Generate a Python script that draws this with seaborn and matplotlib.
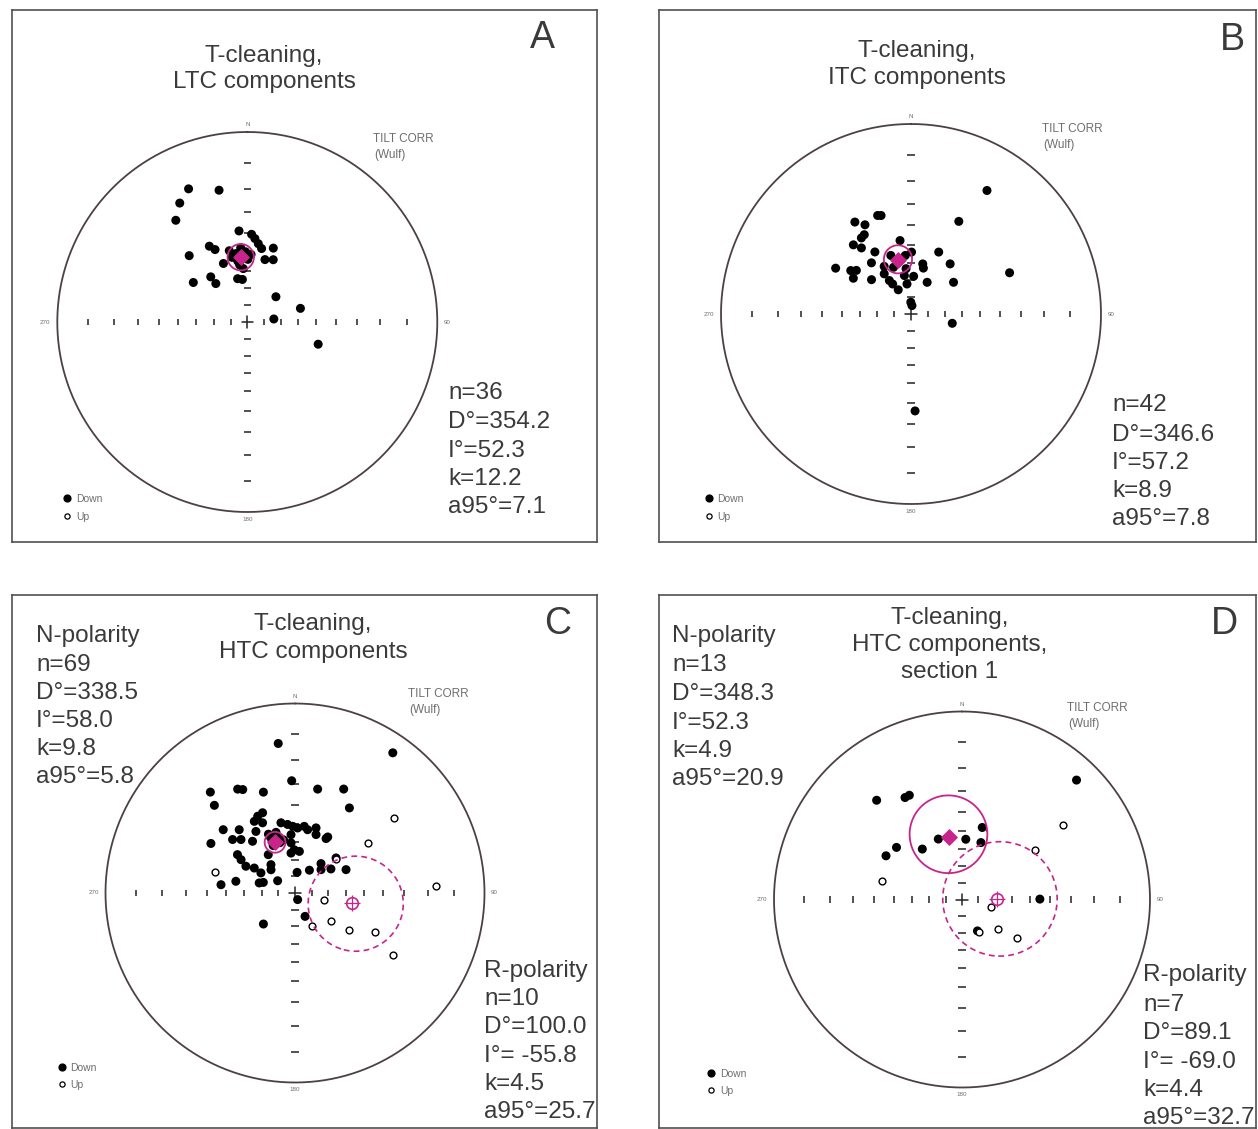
import numpy as np
import pandas as pd
import seaborn as sns
import matplotlib.pyplot as plt

sns.set_theme(style='white')
plt.rcParams['font.family'] = ['Liberation Sans', 'DejaVu Sans']

# ---- data: declination / inclination of each specimen (deg) ----
A_DEC = [336.2, 347.9, 330.4, 324.9, 318.8, 306.2, 321.0, 320.7, 333.4, 336.0,
         337.8, 354.8, 2.8, 5.2, 8.0, 11.0, 19.4, 15.8, 22.6, 347.4,
         353.4, 355.7, 48.6, 75.6, 83.5, 107.4, 350.5, 358.5, 0.5, 351.1,
         346.8, 356.7, 3.2, 352.4, 345.8, 354.9]
A_INC = [15.1, 19.3, 18.5, 23.6, 40.2, 51.2, 56.0, 60.7, 41.9, 44.7,
         53.2, 38.6, 40.4, 42.4, 44.8, 47.0, 45.2, 52.3, 50.9, 63.7,
         64.6, 58.5, 67.3, 57.8, 74.0, 47.3, 49.9, 49.4, 53.5, 54.1,
         51.5, 51.3, 50.8, 56.3, 47.7, 47.2]

B_DEC = [31.6, 27.3, 67.3, 102.7, 177.6, 6.5, 343.1, 341.3, 328.6, 332.7,
         329.5, 326.9, 320.2, 323.1, 329.8, 351.5, 24.1, 38.0, 53.3, 27.0,
         13.2, 15.1, 301.3, 305.8, 308.6, 301.8, 322.3, 311.0, 326.3, 327.1,
         328.5, 332.2, 352.4, 4.0, 0.5, 354.4, 341.0, 339.5, 353.8, 359.0,
         330.6, 350.2]
B_INC = [15.3, 32.5, 31.3, 64.9, 35.9, 84.9, 33.1, 32.6, 30.9, 34.3,
         38.3, 38.9, 39.3, 43.0, 48.6, 47.3, 50.7, 53.0, 58.8, 68.8,
         59.7, 61.9, 40.2, 47.3, 49.6, 50.7, 52.4, 59.2, 61.5, 66.3,
         69.0, 73.6, 71.9, 67.5, 53.9, 55.6, 53.9, 60.6, 63.0, 82.9,
         57.9, 66.8]

C_N_DEC = [353.6, 34.9, 358.3, 320.0, 317.4, 331.1, 333.2, 342.6, 12.3, 25.1,
           32.6, 300.5, 281.2, 276.4, 225.5, 158.2, 156.7, 65.4, 56.2, 41.5,
           32.3, 5.8, 305.2, 288.5, 30.3,
           334.1, 338.0, 330.4, 335.2, 327.6, 311.4, 318.6, 310.6, 314.7, 320.6,
           348.7, 353.8, 358.0, 2.3, 7.9, 11.3, 17.9, 19.8, 29.7, 355.5,
           359.0, 6.0, 354.3, 303.7, 301.7, 298.6, 301.5, 319.7, 314.1, 300.5,
           48.1, 49.5, 285.7, 325.1, 356.1,
           342.8, 336.0, 341.6, 336.2, 343.2, 335.3, 347.9, 335.7, 342.6]
C_N_INC = [13.1, 5.9, 28.7, 20.4, 25.7, 25.9, 27.1, 31.7, 31.4, 27.6,
           33.9, 35.5, 54.7, 47.1, 63.7, 85.7, 74.7, 57.0, 64.3, 66.6,
           73.8, 77.5, 77.2, 70.0, 52.2,
           41.5, 40.9, 43.0, 45.6, 47.9, 36.4, 42.0, 43.1, 46.3, 51.1,
           48.6, 50.0, 51.2, 52.1, 50.9, 52.4, 50.3, 53.7, 53.4, 60.3,
           64.3, 65.1, 66.1, 49.9, 53.0, 57.1, 61.7, 67.8, 70.0, 66.4,
           69.1, 58.2, 67.8, 62.3, 55.7,
           56.2, 57.0, 54.9, 54.3, 59.0, 59.2, 58.0, 52.4, 52.9]
C_R_DEC = [53.0, 55.5, 50.2, 87.3, 103.0, 128.7, 153.0, 124.1, 116.0, 122.3, 284.5]
C_R_INC = [-23.4, -40.0, -58.4, -16.6, -72.4, -63.0, -68.1, -51.8, -39.6, -27.2, -42.8]

D_N_DEC = [43.8, 319.3, 330.8, 333.2, 308.5, 299.9, 321.8, 338.6, 3.6, 15.7, 18.4, 89.7, 153.8]
D_N_INC = [7.3, 20.3, 26.3, 26.3, 42.0, 40.0, 52.3, 51.9, 54.4, 46.6, 54.6, 45.0, 68.9]
D_R_DEC = [53.6, 56.0, 283.1, 104.2, 152.4, 128.6, 124.5]
D_R_INC = [-22.8, -39.8, -42.9, -71.9, -68.1, -62.2, -50.7]

# mean directions: dec, inc, k, a95, n
A_MEAN = (354.2, 52.3, 12.2, 7.1, 36)
B_MEAN = (346.6, 57.2, 8.9, 7.8, 42)
C_MEAN_N = (338.5, 58.0, 9.8, 5.8, 69)
C_MEAN_R = (100.0, -55.8, 4.5, 25.7, 10)
D_MEAN_N = (348.3, 52.3, 4.9, 20.9, 13)
D_MEAN_R = (89.1, -69.0, 4.4, 32.7, 7)

TICK_INC = [10, 20, 30, 40, 50, 60, 70, 80]

W, H = 1258, 1129
TXT = '#3a3a3a'
GREY = '#6e6e6e'
MAG = '#c8248c'
RING = '#4e4040'

fig = plt.figure(figsize=(W / 100, H / 100), dpi=100)


def wulff(dec, inc):
    d = np.radians(np.asarray(dec, float))
    r = np.tan(np.radians(90 - np.abs(np.asarray(inc, float))) / 2)
    return r * np.sin(d), r * np.cos(d)


def cone(dec, inc, a95, n=241):
    d, i, a = np.radians([dec, inc, a95])
    m = np.array([np.cos(i) * np.sin(d), np.cos(i) * np.cos(d), np.sin(i)])
    u = np.cross(m, [0, 0, 1.0])
    u /= np.linalg.norm(u)
    v = np.cross(m, u)
    t = np.linspace(0, 2 * np.pi, n)
    p = np.cos(a) * m[:, None] + np.sin(a) * (np.outer(u, np.cos(t)) + np.outer(v, np.sin(t)))
    pinc = np.degrees(np.arcsin(np.clip(p[2], -1, 1)))
    pdec = np.degrees(np.arctan2(p[0], p[1]))
    return wulff(pdec, pinc)


def ftext(x, y, s, **kw):
    kw.setdefault('color', TXT)
    fig.text(x / W, 1 - y / H, s, **kw)


def panel(box, centre, radius):
    x0, y0, x1, y1 = box
    cx, cy = centre
    ax = fig.add_axes([x0 / W, 1 - y1 / H, (x1 - x0) / W, (y1 - y0) / H])
    ax.set_xlim((x0 - cx) / radius, (x1 - cx) / radius)
    ax.set_ylim((cy - y1) / radius, (cy - y0) / radius)
    ax.set_aspect('auto')
    ax.set_xticks([])
    ax.set_yticks([])
    for sp in ax.spines.values():
        sp.set_color('#505050')
        sp.set_linewidth(1.2)
    t = np.linspace(0, 2 * np.pi, 500)
    ax.plot(np.sin(t), np.cos(t), color=RING, lw=1.3)
    r = np.tan(np.radians(90 - np.array(TICK_INC, float)) / 2)
    r = np.concatenate([r, -r])
    ax.vlines(r, -0.018, 0.018, color='#222222', lw=1.1)
    ax.hlines(r, -0.02, 0.02, color='#222222', lw=1.1)
    ax.plot([-0.03, 0.03], [0, 0], color='#222222', lw=1.1)
    ax.plot([0, 0], [-0.03, 0.03], color='#222222', lw=1.1)
    small = dict(fontsize=4.5, color=GREY)
    ax.text(0, 1.025, 'N', ha='center', va='bottom', **small)
    ax.text(0, -1.025, '180', ha='center', va='top', **small)
    ax.text(-1.035, 0, '270', ha='right', va='center', **small)
    ax.text(1.035, 0, '90', ha='left', va='center', **small)

    def to(px, py):
        return (px - cx) / radius, (cy - py) / radius
    return ax, to


def points(ax, dec, inc):
    x, y = wulff(dec, inc)
    df = pd.DataFrame({'x': x, 'y': y, 'down': np.asarray(inc) >= 0})
    sns.scatterplot(data=df[df['down']], x='x', y='y', ax=ax, color='black',
                    s=42, edgecolor='none', legend=False, zorder=3)
    sns.scatterplot(data=df[~df['down']], x='x', y='y', ax=ax, color='white',
                    edgecolor='black', linewidth=1.0, s=24, legend=False, zorder=3)
    ax.set_xlabel('')
    ax.set_ylabel('')


def mean(ax, m):
    dec, inc, k, a95, n = m
    cx, cy = cone(dec, inc, a95)
    mx, my = wulff([dec], [inc])
    if inc >= 0:
        ax.plot(cx, cy, color=MAG, lw=1.3, zorder=4)
        ax.scatter(mx, my, marker='D', s=60, color=MAG, zorder=5)
    else:
        ax.plot(cx, cy, color=MAG, lw=1.2, ls=(0, (3.5, 2.5)), zorder=4)
        ax.scatter(mx, my, marker='o', s=70, facecolor='white', edgecolor=MAG,
                   linewidth=1.2, zorder=5)
        ax.scatter(mx, my, marker='+', s=130, color=MAG, linewidth=0.9, zorder=5)


def stats(x, ys, m, head=None):
    dec, inc, k, a95, n = m
    sep = '= ' if inc < 0 else '='
    lines = [f'n={n}', f'D\u00b0={dec:.1f}', f'I\u00b0{sep}{inc:.1f}',
             f'k={k:.1f}', f'a95\u00b0={a95:.1f}']
    if head:
        lines = [head] + lines
    for yy, s in zip(ys, lines):
        ftext(x, yy, s, fontsize=17.5, va='baseline', ha='left')


def legend(ax, to, x, y1, y2, tx):
    ax.scatter(*to(x, y1), s=24, color='black', zorder=3)
    ax.scatter(*to(x, y2), s=14, facecolor='white', edgecolor='black', linewidth=0.9, zorder=3)
    ftext(tx, y1 + 4, 'Down', fontsize=7.5, color=GREY, va='baseline')
    ftext(tx, y2 + 4, 'Up', fontsize=7.5, color=GREY, va='baseline')


def tilt(x, y):
    ftext(x, y, 'TILT CORR', fontsize=8.5, color=GREY, va='baseline')
    ftext(x + 1, y + 16, '(Wulf)', fontsize=8.5, color=GREY, va='baseline')


def title(x, ys, lines, letter, lx, ly):
    for yy, s in zip(ys, lines):
        ftext(x, yy, s, fontsize=17.5, ha='center', va='baseline')
    ftext(lx, ly, letter, fontsize=27, ha='center', va='baseline')


# ---- A ----
ax, to = panel((12, 10, 597, 542), (247.3, 322), 190)
points(ax, A_DEC, A_INC)
mean(ax, A_MEAN)
legend(ax, to, 67, 498, 516, 76)
title(264, [62, 88], ['T-cleaning,', 'LTC components'], 'A', 542, 48)
tilt(373, 142)
stats(448, [399, 428, 457, 485, 513], A_MEAN)

# ---- B ----
ax, to = panel((659, 10, 1256, 542), (911, 314), 190)
points(ax, B_DEC, B_INC)
mean(ax, B_MEAN)
legend(ax, to, 709, 498, 516, 717)
title(917, [57, 84], ['T-cleaning,', 'ITC components'], 'B', 1232, 50)
tilt(1042, 132)
stats(1112, [411, 441, 469, 497, 525], B_MEAN)

# ---- C ----
ax, to = panel((12, 595, 597, 1128), (295, 893), 189.5)
points(ax, C_N_DEC + C_R_DEC, C_N_INC + C_R_INC)
mean(ax, C_MEAN_N)
mean(ax, C_MEAN_R)
legend(ax, to, 62, 1067, 1084, 70)
title(313, [630, 658], ['T-cleaning,', 'HTC components'], 'C', 558, 634)
tilt(408, 697)
stats(36, [642, 671, 699, 727, 755, 783], C_MEAN_N, 'N-polarity')
stats(484, [977, 1005, 1033, 1062, 1090, 1118], C_MEAN_R, 'R-polarity')

# ---- D ----
ax, to = panel((659, 595, 1256, 1128), (962, 899.5), 188)
points(ax, D_N_DEC + D_R_DEC, D_N_INC + D_R_INC)
mean(ax, D_MEAN_N)
mean(ax, D_MEAN_R)
legend(ax, to, 711, 1073, 1090, 720)
title(950, [624, 651, 678], ['T-cleaning,', 'HTC components,', 'section 1'], 'D', 1224, 634)
tilt(1067, 711)
stats(672, [642, 671, 700, 729, 757, 785], D_MEAN_N, 'N-polarity')
stats(1143, [981, 1011, 1039, 1068, 1096, 1124], D_MEAN_R, 'R-polarity')

fig.savefig('out.png', dpi=100, facecolor='white')
